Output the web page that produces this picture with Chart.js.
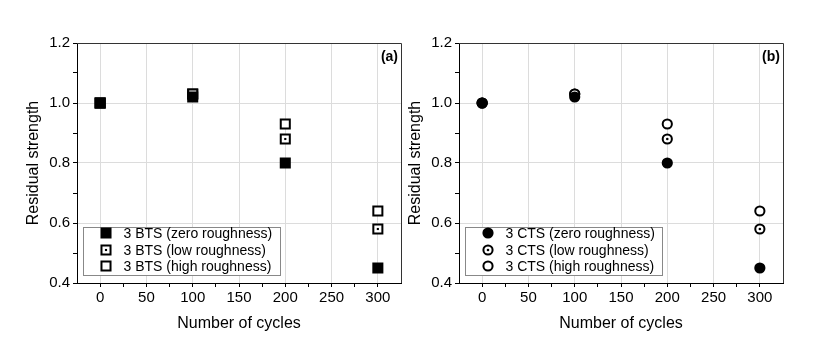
<!DOCTYPE html>
<html>
<head>
<meta charset="utf-8">
<script src="https://cdn.jsdelivr.net/npm/chart.js@4.4.1/dist/chart.umd.min.js"></script>
<style>
  html, body { margin: 0; padding: 0; background: #fff; }
  #wrap { position: relative; width: 817px; height: 352px; }
  .panel { position: absolute; top: 0; height: 352px; }
</style>
</head>
<body>
<div id="wrap">
  <div class="panel" style="left:0;width:404px"><canvas id="chartA"></canvas></div>
  <div class="panel" style="left:382px;width:410px"><canvas id="chartB"></canvas></div>
</div>
<script>
// data
const cycles = [0, 100, 200, 300];
const btsZero = [1.0, 1.02, 0.80, 0.45];
const btsLow = [1.0, 1.03, 0.88, 0.58];
const btsHigh = [1.0, 1.03, 0.93, 0.64];
const ctsZero = [1.0, 1.02, 0.80, 0.45];
const ctsLow = [1.0, 1.03, 0.88, 0.58];
const ctsHigh = [1.0, 1.03, 0.93, 0.64];
const btsLabels = ['3 BTS (zero roughness)', '3 BTS (low roughness)', '3 BTS (high roughness)'];
const ctsLabels = ['3 CTS (zero roughness)', '3 CTS (low roughness)', '3 CTS (high roughness)'];
const xTickLabels = [0, 50, 100, 150, 200, 250, 300];
const yTickLabels = [0.4, 0.6, 0.8, 1.0, 1.2];

const FONT = "'Liberation Sans', Arial, sans-serif";

const pts = ys => cycles.map((x, i) => ({ x, y: ys[i] }));

// frame, panel tag and legend box inside the plot
const extras = {
  id: 'extras',
  afterDraw(chart, args, opts) {
    const { ctx, chartArea: a } = chart;
    ctx.save();
    ctx.strokeStyle = '#333'; ctx.lineWidth = 1;
    ctx.beginPath();
    ctx.moveTo(a.left, a.top + 0.5); ctx.lineTo(a.right + 0.5, a.top + 0.5);
    ctx.lineTo(a.right + 0.5, a.bottom);
    ctx.stroke();

    ctx.fillStyle = '#000';
    ctx.font = 'bold 14px ' + FONT;
    ctx.textAlign = 'right'; ctx.textBaseline = 'middle';
    ctx.fillText(opts.tag, a.right - 3, a.top + 14);

    const bx = a.left + 6.5, by = a.bottom - 55.5, bw = 197, bh = 48;
    ctx.fillStyle = '#fff';
    ctx.fillRect(bx, by, bw, bh);
    ctx.strokeStyle = '#888';
    ctx.strokeRect(bx, by, bw, bh);
    ctx.font = '14px ' + FONT;
    ctx.textAlign = 'left';
    const sets = chart.data.datasets;
    for (let i = 0; i < 3; i++) {
      const ds = sets[i];
      const y = Math.round(by + 5.5 + i * 16.5);
      const x = Math.round(bx + 22);
      const mark = d => {
        ctx.fillStyle = d.backgroundColor; ctx.strokeStyle = d.borderColor; ctx.lineWidth = d.borderWidth;
        ctx.beginPath();
        if (d.pointStyle === 'rect') {
          const s = d.pointRadius * Math.SQRT1_2;
          ctx.rect(x - s, y - s, 2 * s, 2 * s);
        } else {
          ctx.arc(x, y, d.pointRadius, 0, Math.PI * 2);
        }
        ctx.fill();
        if (d.borderWidth) ctx.stroke();
      };
      mark(ds);
      if (i === 1) mark(sets[3]);
      ctx.fillStyle = '#000';
      ctx.fillText(ds.label, bx + 40, y + 1);
    }
    ctx.restore();
  }
};

const isMajorX = v => v >= 0 && v <= 300 && v % 50 === 0;
const isMajorY = v => Math.round(v * 10) % 2 === 0;

function makeChart(id, tag, labels, zero, low, high, shape, padRight) {
  const r = shape === 'rect' ? 6.4 : 4.6;
  const datasets = [
    { label: labels[0], data: pts(zero), pointStyle: shape, pointRadius: r, borderWidth: 2,
      backgroundColor: '#000', borderColor: '#000', order: 1 },
    { label: labels[1], data: pts(low), pointStyle: shape, pointRadius: r, borderWidth: 2,
      backgroundColor: '#fff', borderColor: '#000', order: 2 },
    { label: labels[2], data: pts(high), pointStyle: shape, pointRadius: r, borderWidth: 2,
      backgroundColor: '#fff', borderColor: '#000', order: 3 },
    // centre dot of the low-roughness marker
    { label: '', data: pts(low), pointStyle: shape, pointRadius: shape === 'rect' ? 1.5 : 1.3, borderWidth: 0,
      backgroundColor: '#000', borderColor: '#000', order: 0 }
  ];
  return new Chart(document.getElementById(id), {
    type: 'scatter',
    data: { datasets },
    plugins: [extras],
    options: {
      responsive: true,
      maintainAspectRatio: false,
      animation: false,
      layout: { autoPadding: false, padding: { top: 43, right: padRight, bottom: 0, left: 0 } },
      plugins: { legend: { display: false }, tooltip: { enabled: false }, extras: { tag } },
      scales: {
        x: {
          type: 'linear', min: -25, max: 325,
          afterFit: s => { s.height = 69; s.paddingLeft = 0; s.paddingRight = 0; },
          ticks: {
            stepSize: 25, color: '#000', padding: 2, maxRotation: 0, autoSkip: false,
            font: { family: FONT, size: 15 },
            callback: v => xTickLabels.includes(v) ? String(v) : ''
          },
          grid: {
            color: c => isMajorX(c.tick.value) ? '#dcdcdc' : 'rgba(0,0,0,0)',
            tickColor: c => (c.tick.value > -25 && c.tick.value < 325) ? '#000' : 'rgba(0,0,0,0)',
            tickLength: 4, drawTicks: true
          },
          border: { display: true, color: '#000', width: 1 },
          title: { display: true, text: 'Number of cycles', color: '#000',
            font: { family: FONT, size: 16 }, padding: { top: 0, bottom: 19 } }
        },
        y: {
          type: 'linear', min: 0.4, max: 1.2,
          afterFit: s => { s.width = 77; s.paddingTop = 0; s.paddingBottom = 0; },
          ticks: {
            stepSize: 0.1, color: '#000', padding: 3, autoSkip: false,
            font: { family: FONT, size: 15 },
            callback: v => {
              const t = yTickLabels.find(k => Math.abs(k - v) < 1e-6);
              return t !== undefined ? t.toFixed(1) : '';
            }
          },
          grid: {
            color: c => isMajorY(c.tick.value) ? '#dcdcdc' : 'rgba(0,0,0,0)',
            tickColor: '#000', tickLength: 4, drawTicks: true
          },
          border: { display: true, color: '#000', width: 1 },
          title: { display: true, text: 'Residual strength', color: '#000',
            font: { family: FONT, size: 16 }, padding: { top: 24, bottom: 0 } }
        }
      }
    }
  });
}

makeChart('chartA', '(a)', btsLabels, btsZero, btsLow, btsHigh, 'rect', 3);
makeChart('chartB', '(b)', ctsLabels, ctsZero, ctsLow, ctsHigh, 'circle', 9);
</script>
</body>
</html>
